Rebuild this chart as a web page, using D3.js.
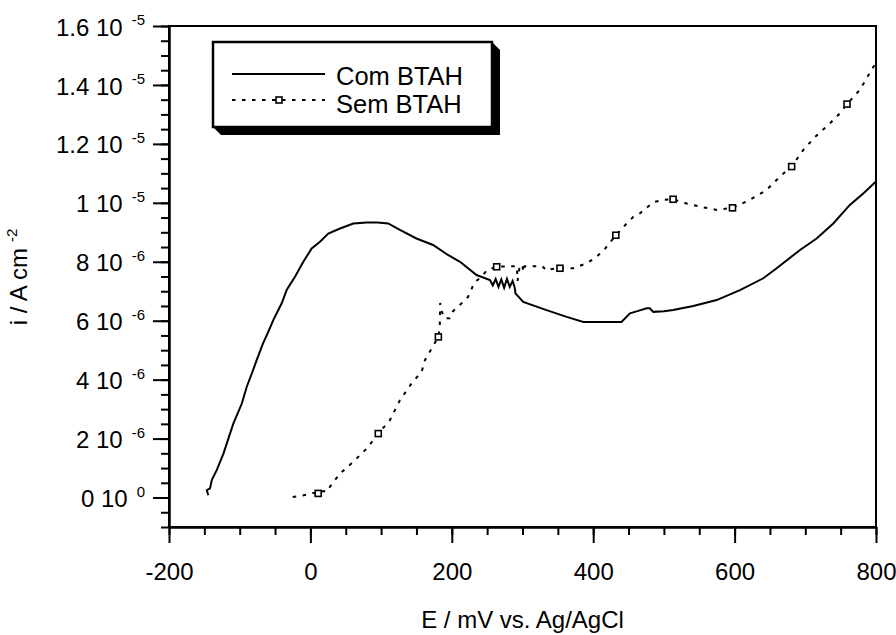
<!DOCTYPE html>
<html>
<head>
<meta charset="UTF-8">
<script src="https://d3js.org/d3.v7.min.js"></script>
<style>
  body { margin: 0; background: #fff; }
  svg { font-family: "Liberation Sans", Arial, sans-serif; }
</style>
</head>
<body>
<svg id="chart" width="896" height="635"></svg>
<script>
// current density in units of 1e-6 A cm-2
const comE = [-144.5, -146.5, -142, -139.5, -135, -132.5, -123, -116, -109, -97, -90, -83, -76, -67, -60, -52.5, -40.6, -33.6, -21.8, -10, 1.8, 13.6, 25.3, 41.9, 60.7, 79.6, 95, 110, 126.6, 150, 173.5, 194.6, 211.6, 235, 254, 258, 262, 266, 270, 274, 278, 282, 286, 289, 290, 301, 334, 362.5, 386, 413, 440, 452, 466, 475.6, 480, 485, 500, 513, 541.6, 574.6, 607.6, 640.6, 659.5, 692.5, 716, 739.6, 763, 782, 800];
const comI = [0.08, 0.25, 0.31, 0.59, 0.81, 0.93, 1.49, 2.0, 2.51, 3.19, 3.76, 4.2, 4.66, 5.23, 5.6, 6.02, 6.59, 7.04, 7.49, 8.0, 8.45, 8.68, 8.96, 9.13, 9.30, 9.33, 9.33, 9.30, 9.08, 8.79, 8.57, 8.23, 8.0, 7.55, 7.38, 7.2, 7.42, 7.15, 7.4, 7.12, 7.42, 7.15, 7.35, 7.12, 6.93, 6.64, 6.36, 6.13, 5.96, 5.96, 5.96, 6.25, 6.35, 6.42, 6.42, 6.30, 6.32, 6.36, 6.5, 6.70, 7.04, 7.44, 7.78, 8.40, 8.79, 9.30, 9.93, 10.32, 10.72];

const semE = [-25, -15, -5, 3, 11, 18, 23, 30, 41.9, 60, 79.6, 96, 112.3, 126.6, 143, 157.4, 162, 171.6, 181, 183, 183.5, 186, 190, 197, 202, 214, 223, 232, 242, 250, 263.5, 282, 292, 293, 296, 300, 301, 303, 316, 328, 334, 340, 353, 372, 391, 405, 417, 432, 447.4, 457, 466, 485, 499, 513, 532, 551, 574.6, 597, 621.7, 645, 664, 680.7, 697, 714, 735, 749, 759, 777, 796, 800];
const semI = [0.02, 0.05, 0.1, 0.15, 0.14, 0.22, 0.19, 0.45, 0.81, 1.2, 1.66, 2.17, 2.62, 3.30, 3.87, 4.27, 4.66, 5.06, 5.45, 5.8, 6.6, 6.3, 6.08, 6.08, 6.33, 6.59, 6.81, 7.3, 7.49, 7.72, 7.83, 7.85, 7.85, 7.35, 7.85, 7.9, 7.65, 7.85, 7.85, 7.85, 7.7, 7.75, 7.78, 7.78, 7.95, 8.17, 8.45, 8.9, 9.30, 9.53, 9.64, 10.02, 10.1, 10.12, 9.98, 9.87, 9.76, 9.83, 10.1, 10.43, 10.89, 11.23, 11.79, 12.24, 12.7, 13.04, 13.35, 13.83, 14.6, 14.75];

const semMarkE = [11, 96, 181, 263.5, 353, 432, 513, 597, 680.7, 759];
const semMarkI = [0.14, 2.17, 5.45, 7.83, 7.78, 8.9, 10.12, 9.83, 11.23, 13.35];

const xMajor = [-200, 0, 200, 400, 600, 800];
const yMajor = [0, 2, 4, 6, 8, 10, 12, 14, 16];
const yMant = ["0", "2", "4", "6", "8", "1", "1.2", "1.4", "1.6"];
const yExp = ["0", "-6", "-6", "-6", "-6", "-5", "-5", "-5", "-5"];

const seriesNames = ["Com BTAH", "Sem BTAH"];

const svg = d3.select("#chart");
const pLeft = 169, pRight = 876, pTop = 26, pBottom = 527;

const x = d3.scaleLinear().domain([-200, 800]).range([pLeft, pRight]);
const y = d3.scaleLinear().domain([-1, 16]).range([pBottom, pTop]);

// minor ticks
svg.append("g")
    .attr("transform", `translate(0,${pBottom})`)
    .call(d3.axisBottom(x).tickValues(d3.range(-200, 801, 50)).tickSize(8).tickSizeOuter(0).tickFormat(""));
svg.append("g")
    .attr("transform", `translate(${pLeft},0)`)
    .call(d3.axisLeft(y).tickValues(d3.range(-1, 16.01, 0.5)).tickSize(8).tickSizeOuter(0).tickFormat(""));

// major ticks
const xAxis = svg.append("g")
    .attr("transform", `translate(0,${pBottom})`)
    .call(d3.axisBottom(x).tickValues(xMajor).tickSize(16).tickSizeOuter(0).tickPadding(20).tickFormat(d => String(d)));
xAxis.selectAll("text").attr("font-size", 24).attr("font-family", "Liberation Sans, Arial, sans-serif").attr("fill", "#000");

svg.append("g")
    .attr("transform", `translate(${pLeft},0)`)
    .call(d3.axisLeft(y).tickValues(yMajor).tickSize(16).tickSizeOuter(0).tickFormat(""));

svg.selectAll(".tick line, .domain").attr("stroke", "#000").attr("stroke-width", 2);

// y tick labels: mantissa + "10" + superscript exponent, right edge at 145
const yLab = svg.append("g").attr("font-size", 24).attr("fill", "#000");
yMajor.forEach((v, i) => {
  const sup = yLab.append("text")
      .attr("font-size", 15)
      .attr("y", y(v) - 1)
      .text(yExp[i]);
  const supW = sup.node().getComputedTextLength();
  sup.attr("x", 145 - supW);
  yLab.append("text")
      .attr("text-anchor", "end")
      .attr("x", 145 - supW - 9)
      .attr("y", y(v) + 9.6)
      .text(yMant[i] + " 10");
});

// frame
svg.append("rect")
    .attr("x", pLeft).attr("y", pTop)
    .attr("width", pRight - pLeft).attr("height", pBottom - pTop)
    .attr("fill", "none").attr("stroke", "#000").attr("stroke-width", 2);

// curves
const line = d3.line().x(d => x(d[0])).y(d => y(d[1]));
const comData = comE.map((e, i) => [e, comI[i]]);
const semData = semE.map((e, i) => [e, semI[i]]);

svg.append("path")
    .datum(comData)
    .attr("d", line)
    .attr("fill", "none").attr("stroke", "#000").attr("stroke-width", 2);

svg.append("path")
    .datum(semData)
    .attr("d", line)
    .attr("fill", "none").attr("stroke", "#000").attr("stroke-width", 2)
    .attr("stroke-dasharray", "3.5,6.5");

svg.selectAll(".mark")
    .data(semMarkE.map((e, i) => [e, semMarkI[i]]))
    .enter().append("rect")
    .attr("class", "mark")
    .attr("x", d => x(d[0]) - 3).attr("y", d => y(d[1]) - 3)
    .attr("width", 6).attr("height", 6)
    .attr("fill", "#fff").attr("stroke", "#000").attr("stroke-width", 1.6);

// axis titles
svg.append("text")
    .attr("x", (pLeft + pRight) / 2).attr("y", 628)
    .attr("text-anchor", "middle").attr("font-size", 24)
    .text("E / mV vs. Ag/AgCl");

const yt = svg.append("text")
    .attr("transform", "translate(27,277) rotate(-90)")
    .attr("text-anchor", "middle").attr("font-size", 24);
yt.append("tspan").text("i / A cm");
yt.append("tspan").attr("font-size", 15).attr("dx", 6).attr("dy", -10).text("-2");

// legend
const lg = svg.append("g");
lg.append("polygon")
    .attr("points", "492,42 500,50 500,135 221,135 213,127")
    .attr("fill", "#000");
lg.append("rect")
    .attr("x", 213).attr("y", 42).attr("width", 279).attr("height", 85)
    .attr("fill", "#fff").attr("stroke", "#000").attr("stroke-width", 2.5);

lg.append("line")
    .attr("x1", 232).attr("x2", 325).attr("y1", 74).attr("y2", 74)
    .attr("stroke", "#000").attr("stroke-width", 2);
lg.append("line")
    .attr("x1", 232).attr("x2", 325).attr("y1", 100).attr("y2", 100)
    .attr("stroke", "#000").attr("stroke-width", 2).attr("stroke-dasharray", "3.5,6.5");
lg.append("rect")
    .attr("x", 276).attr("y", 97).attr("width", 6).attr("height", 6)
    .attr("fill", "#fff").attr("stroke", "#000").attr("stroke-width", 1.6);

lg.selectAll(".lt")
    .data(seriesNames)
    .enter().append("text")
    .attr("class", "lt")
    .attr("x", 336).attr("y", (d, i) => 85 + i * 28)
    .attr("font-size", 25.5)
    .text(d => d);
</script>
</body>
</html>
